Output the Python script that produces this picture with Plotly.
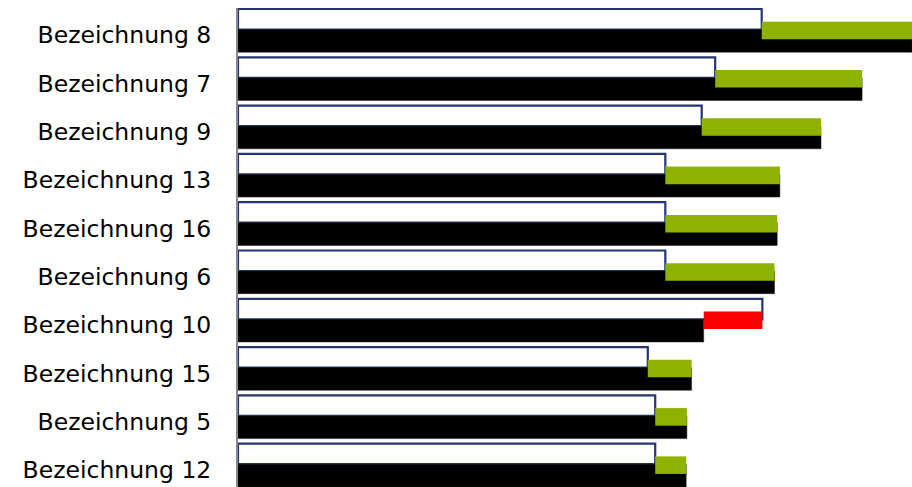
import plotly.graph_objects as go

categories = ["Bezeichnung 8", "Bezeichnung 7", "Bezeichnung 9", "Bezeichnung 13",
              "Bezeichnung 16", "Bezeichnung 6", "Bezeichnung 10", "Bezeichnung 15",
              "Bezeichnung 5", "Bezeichnung 12"]
plan_values = [77.7, 70.8, 68.8, 63.4, 63.4, 63.4, 77.8, 60.8, 61.9, 61.9]
actual_values = [100.0, 92.6, 86.5, 80.4, 80.0, 79.6, 69.1, 67.3, 66.6, 66.5]

diff_base = [min(p, a) for p, a in zip(plan_values, actual_values)]
diff_len = [abs(a - p) for p, a in zip(plan_values, actual_values)]
diff_colors = ["#8DB300" if a >= p else "#FF0000" for p, a in zip(plan_values, actual_values)]

fig = go.Figure()
fig.add_trace(go.Bar(
    y=categories, x=plan_values, orientation="h",
    offset=-0.542, width=0.424,
    marker=dict(color="#FFFFFF", line=dict(color="#263570", width=2.2)),
    hoverinfo="skip",
))
fig.add_trace(go.Bar(
    y=categories, x=actual_values, orientation="h",
    offset=-0.118, width=0.47,
    marker=dict(color="#000000", line=dict(color="#222222", width=0.5)),
    hoverinfo="skip",
))
fig.add_trace(go.Bar(
    y=categories, x=diff_len, base=diff_base, orientation="h",
    offset=-0.28, width=0.364,
    marker=dict(color=diff_colors, line=dict(width=0)),
    hoverinfo="skip",
))

fig.update_layout(
    width=912, height=487,
    margin=dict(l=238, r=0, t=8, b=0),
    barmode="overlay",
    showlegend=False,
    paper_bgcolor="#FFFFFF",
    plot_bgcolor="#FFFFFF",
    font=dict(family="DejaVu Sans", size=23.5, color="#000000"),
)
fig.update_xaxes(range=[0, 100], visible=False, showgrid=False, zeroline=False)
fig.update_yaxes(
    type="category", categoryorder="array", categoryarray=categories,
    range=[9.354, -0.5631],
    showline=True, linecolor="#888888", linewidth=2,
    ticks="", showgrid=False, zeroline=False,
    ticklabelstandoff=20,
    tickfont=dict(family="DejaVu Sans", size=23.5, color="#000000"),
)

fig.write_html(
    "out.html",
    config={"displayModeBar": False},
    post_script="document.body.style.margin='0px';document.body.style.overflow='hidden';",
)
